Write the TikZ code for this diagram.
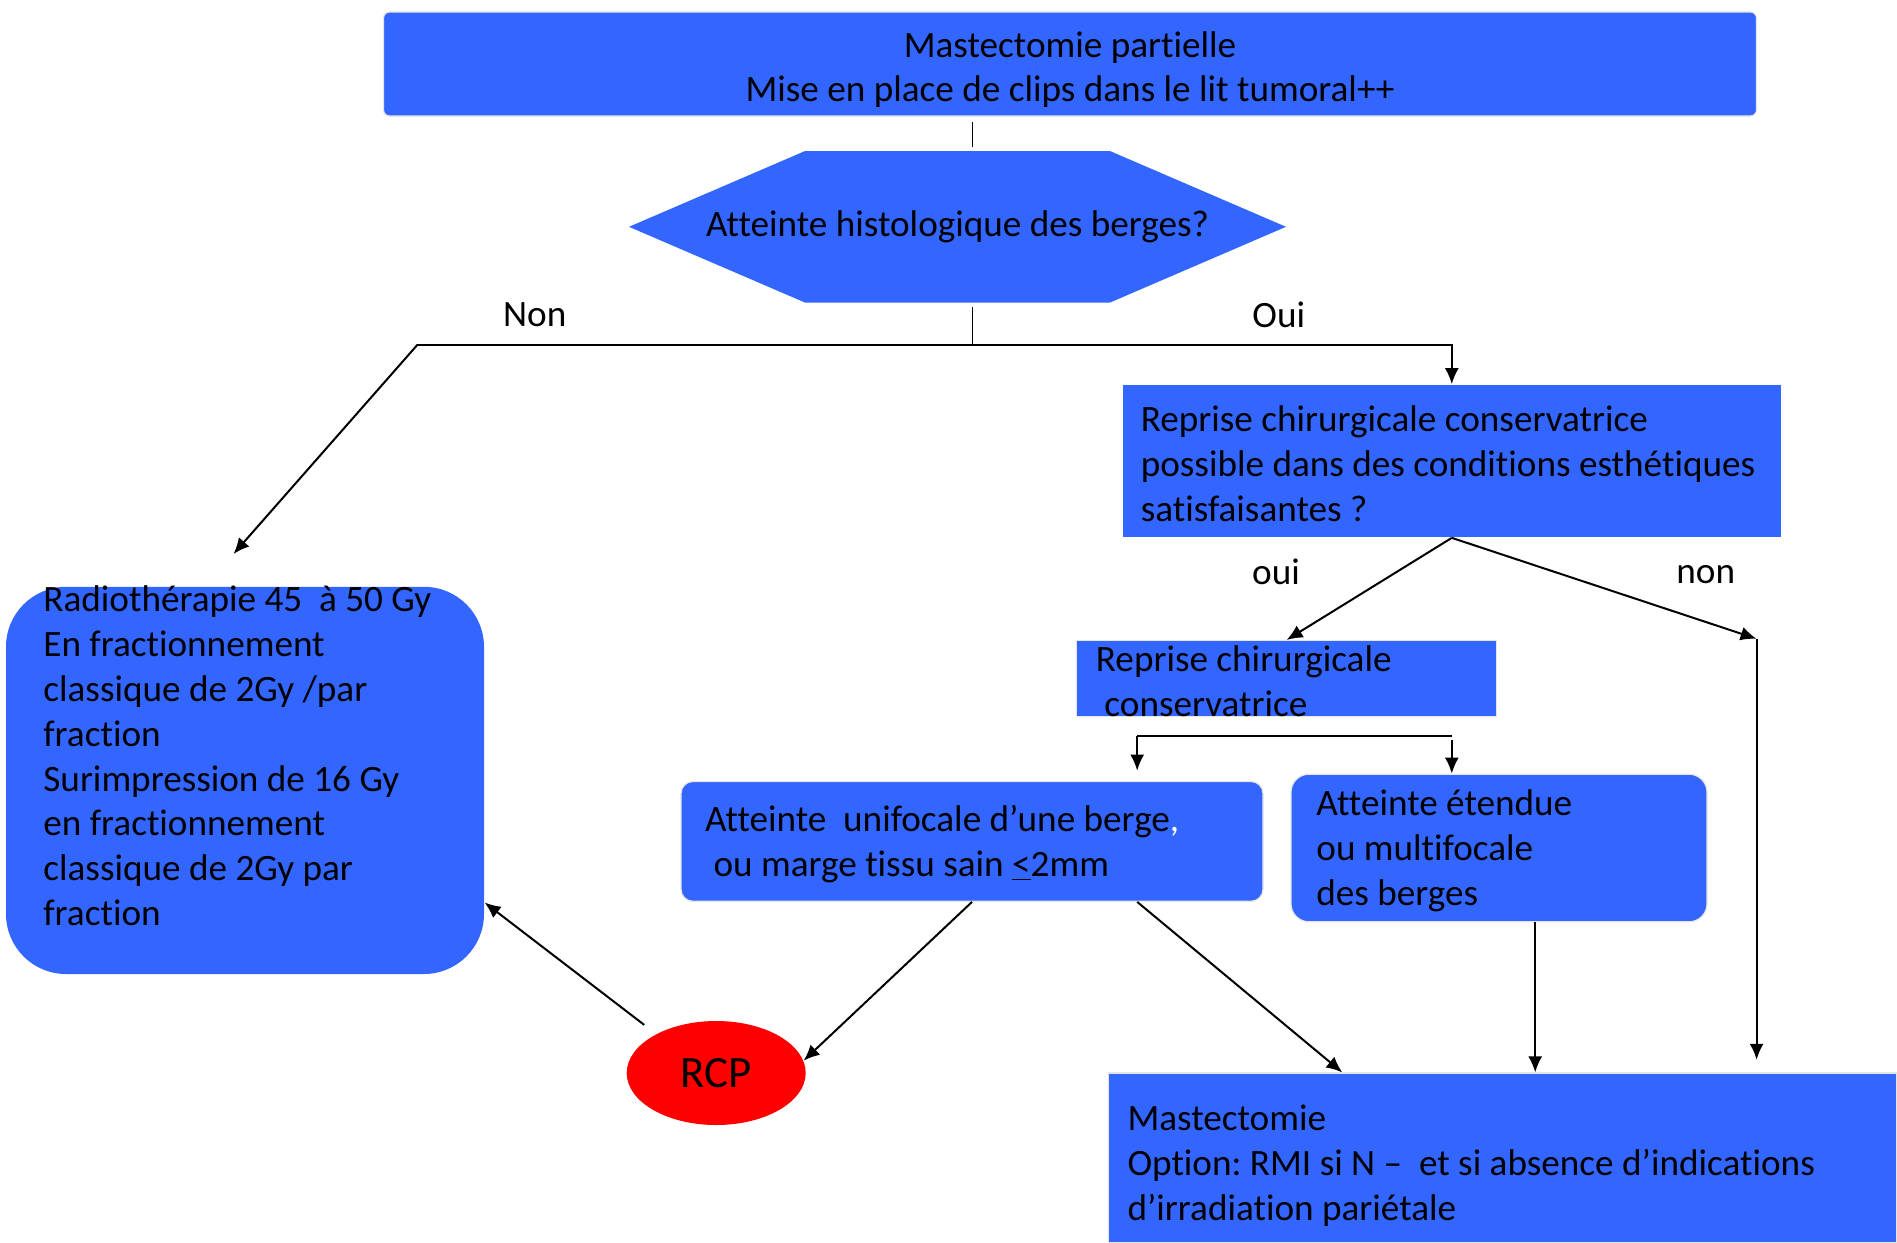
\documentclass[tikz,border=0pt]{standalone}
\usepackage{fontspec}
\setmainfont{Carlito}[Ligatures=CommonOff]
\usepackage{tikz}
\usetikzlibrary{arrows.meta,shapes,calc}
\definecolor{boxblue}{HTML}{3366FF}
\definecolor{rcpred}{HTML}{FF0000}
\tikzstyle{edge}=[
	-,
	draw=black,
	line width=1pt
]
\tikzstyle{stub}=[
	edge,
	line width=0.6pt
]
\tikzstyle{arr}=[
	edge,
	-{Latex[length=8pt,width=7pt]}
]
\tikzstyle{txt}=[
	inner sep=0pt,
	font=\fontsize{18.6pt}{22.4pt}\selectfont\frenchspacing
]
\tikzstyle{plainbox}=[
	txt,
	rectangle,
	fill=boxblue,
	draw=black!10,
	line width=0.6pt
]
\tikzstyle{bluebox}=[
	plainbox,
	align=flush left,
	text height=15.6pt
]
\tikzstyle{hexa}=[
	txt,
	fill=white,
	path picture={
		\fill[boxblue] (path picture bounding box.west)
			-- ($(path picture bounding box.north west)+(88pt,0pt)$)
			-- ($(path picture bounding box.north east)-(88pt,0pt)$)
			-- (path picture bounding box.east)
			-- ($(path picture bounding box.south east)-(88pt,0pt)$)
			-- ($(path picture bounding box.south west)+(88pt,0pt)$)
			-- cycle;
	}
]

\begin{document}
\begin{tikzpicture}[x=1pt,y=-1pt]
\useasboundingbox (0,0) rectangle (948.5,621.5);

\node[plainbox, rounded corners=3pt, align=center, text height=40.8pt, minimum width=686.5pt, minimum height=52pt] (1) at (535,32) {Mastectomie partielle\\Mise en place de clips dans le lit tumoral++};
\node[hexa, minimum width=328.5pt, minimum height=75.75pt] (2) at (478.75,113.4) {Atteinte histologique des berges?};
\node[bluebox, draw=none, inner xsep=9pt, text width=311pt, minimum height=76.25pt] (3) at (725.9,230.5) {Reprise chirurgicale conservatrice\\possible dans des conditions esthétiques\\satisfaisantes ?};
\node[bluebox, inner xsep=9.65pt, text width=190.7pt, minimum height=36.3pt] (4) at (643.3,339.35) {Reprise chirurgicale\\\hspace*{0.23em}conservatrice};
\node[bluebox, rounded corners=6pt, inner xsep=12pt, text width=267pt, minimum height=59.9pt] (5) at (486,420.7) {Atteinte \ unifocale d’une berge\textcolor{white}{,}\\\hspace*{0.23em}ou marge tissu sain \underline{<}2mm};
\node[bluebox, rounded corners=9pt, inner xsep=12.7pt, text width=182.6pt, minimum height=73.8pt] (6) at (749.5,424) {Atteinte étendue\\ou multifocale\\des berges};
\node[ellipse, fill=rcpred, minimum width=89.5pt, minimum height=52pt, inner sep=0pt, font=\fontsize{22.4pt}{27pt}\selectfont] (7) at (358.1,536.5) {RCP};
\node[bluebox, text height=20.4pt, inner xsep=9.65pt, text width=375.1pt, minimum height=85pt] (8) at (751.3,579) {Mastectomie\\Option: RMI si N – \ et si absence d’indications\\d’irradiation pariétale};
\node[plainbox, draw=none, rounded corners=30pt, minimum width=239pt, minimum height=193.6pt] (9) at (122.5,390.2) {};
\node[txt, align=left, anchor=west] (9t) at ($(9.west)+(18.8,-12.2)$) {Radiothérapie 45 \ à 50 Gy\\En fractionnement\\classique de 2Gy /par\\fraction\\Surimpression de 16 Gy\\en fractionnement\\classique de 2Gy par\\fraction};

\node[txt] (non1) at (267.35,157.25) {Non};
\node[txt] (oui1) at (639.4,157.25) {Oui};
\node[txt] (oui2) at (638,286) {oui};
\node[txt] (non2) at (852.9,287.5) {non};

\coordinate (j1) at (486.35,172.4);
\coordinate (j2) at (208.7,172.4);
\coordinate (e1) at (116.75,277);
\coordinate (r1) at (878.3,319.4);
\coordinate (r2) at (878.3,529.9);
\coordinate (s1) at (568.6,367.8);
\coordinate (s2) at (725.9,367.8);

\draw[stub, shorten <=2.5pt, shorten >=1.7pt] (j1 |- 1.south) -- (j1 |- 2.north);
\draw[stub, shorten <=1.8pt] (j1 |- 2.south) -- (j1);
\draw[edge] (j2) -- (j1);
\draw[arr] (j1) -| (3);
\draw[arr] (j2) -- (e1);
\draw[arr] (3.south) -- (4.north);
\draw[arr] (3.south) -- (r1);
\draw[arr] (r1) -- (r2);
\draw[edge] (s1) -- (s2);
\draw[arr] (s1) -- ++(0,17.5);
\draw[arr] ([yshift=-2.4pt]s2) -- (s2 |- 6.north);
\draw[arr] (5.south) -- (7.8);
\draw[arr] (5.south -| s1) -- ($(8.north west)+(117.35,0)$);
\draw[arr] ([xshift=18.1pt]6.south) -- ++(0,75);
\draw[arr, shorten <=7.5pt] (7.147) -- (9.-27);
\end{tikzpicture}
\end{document}
